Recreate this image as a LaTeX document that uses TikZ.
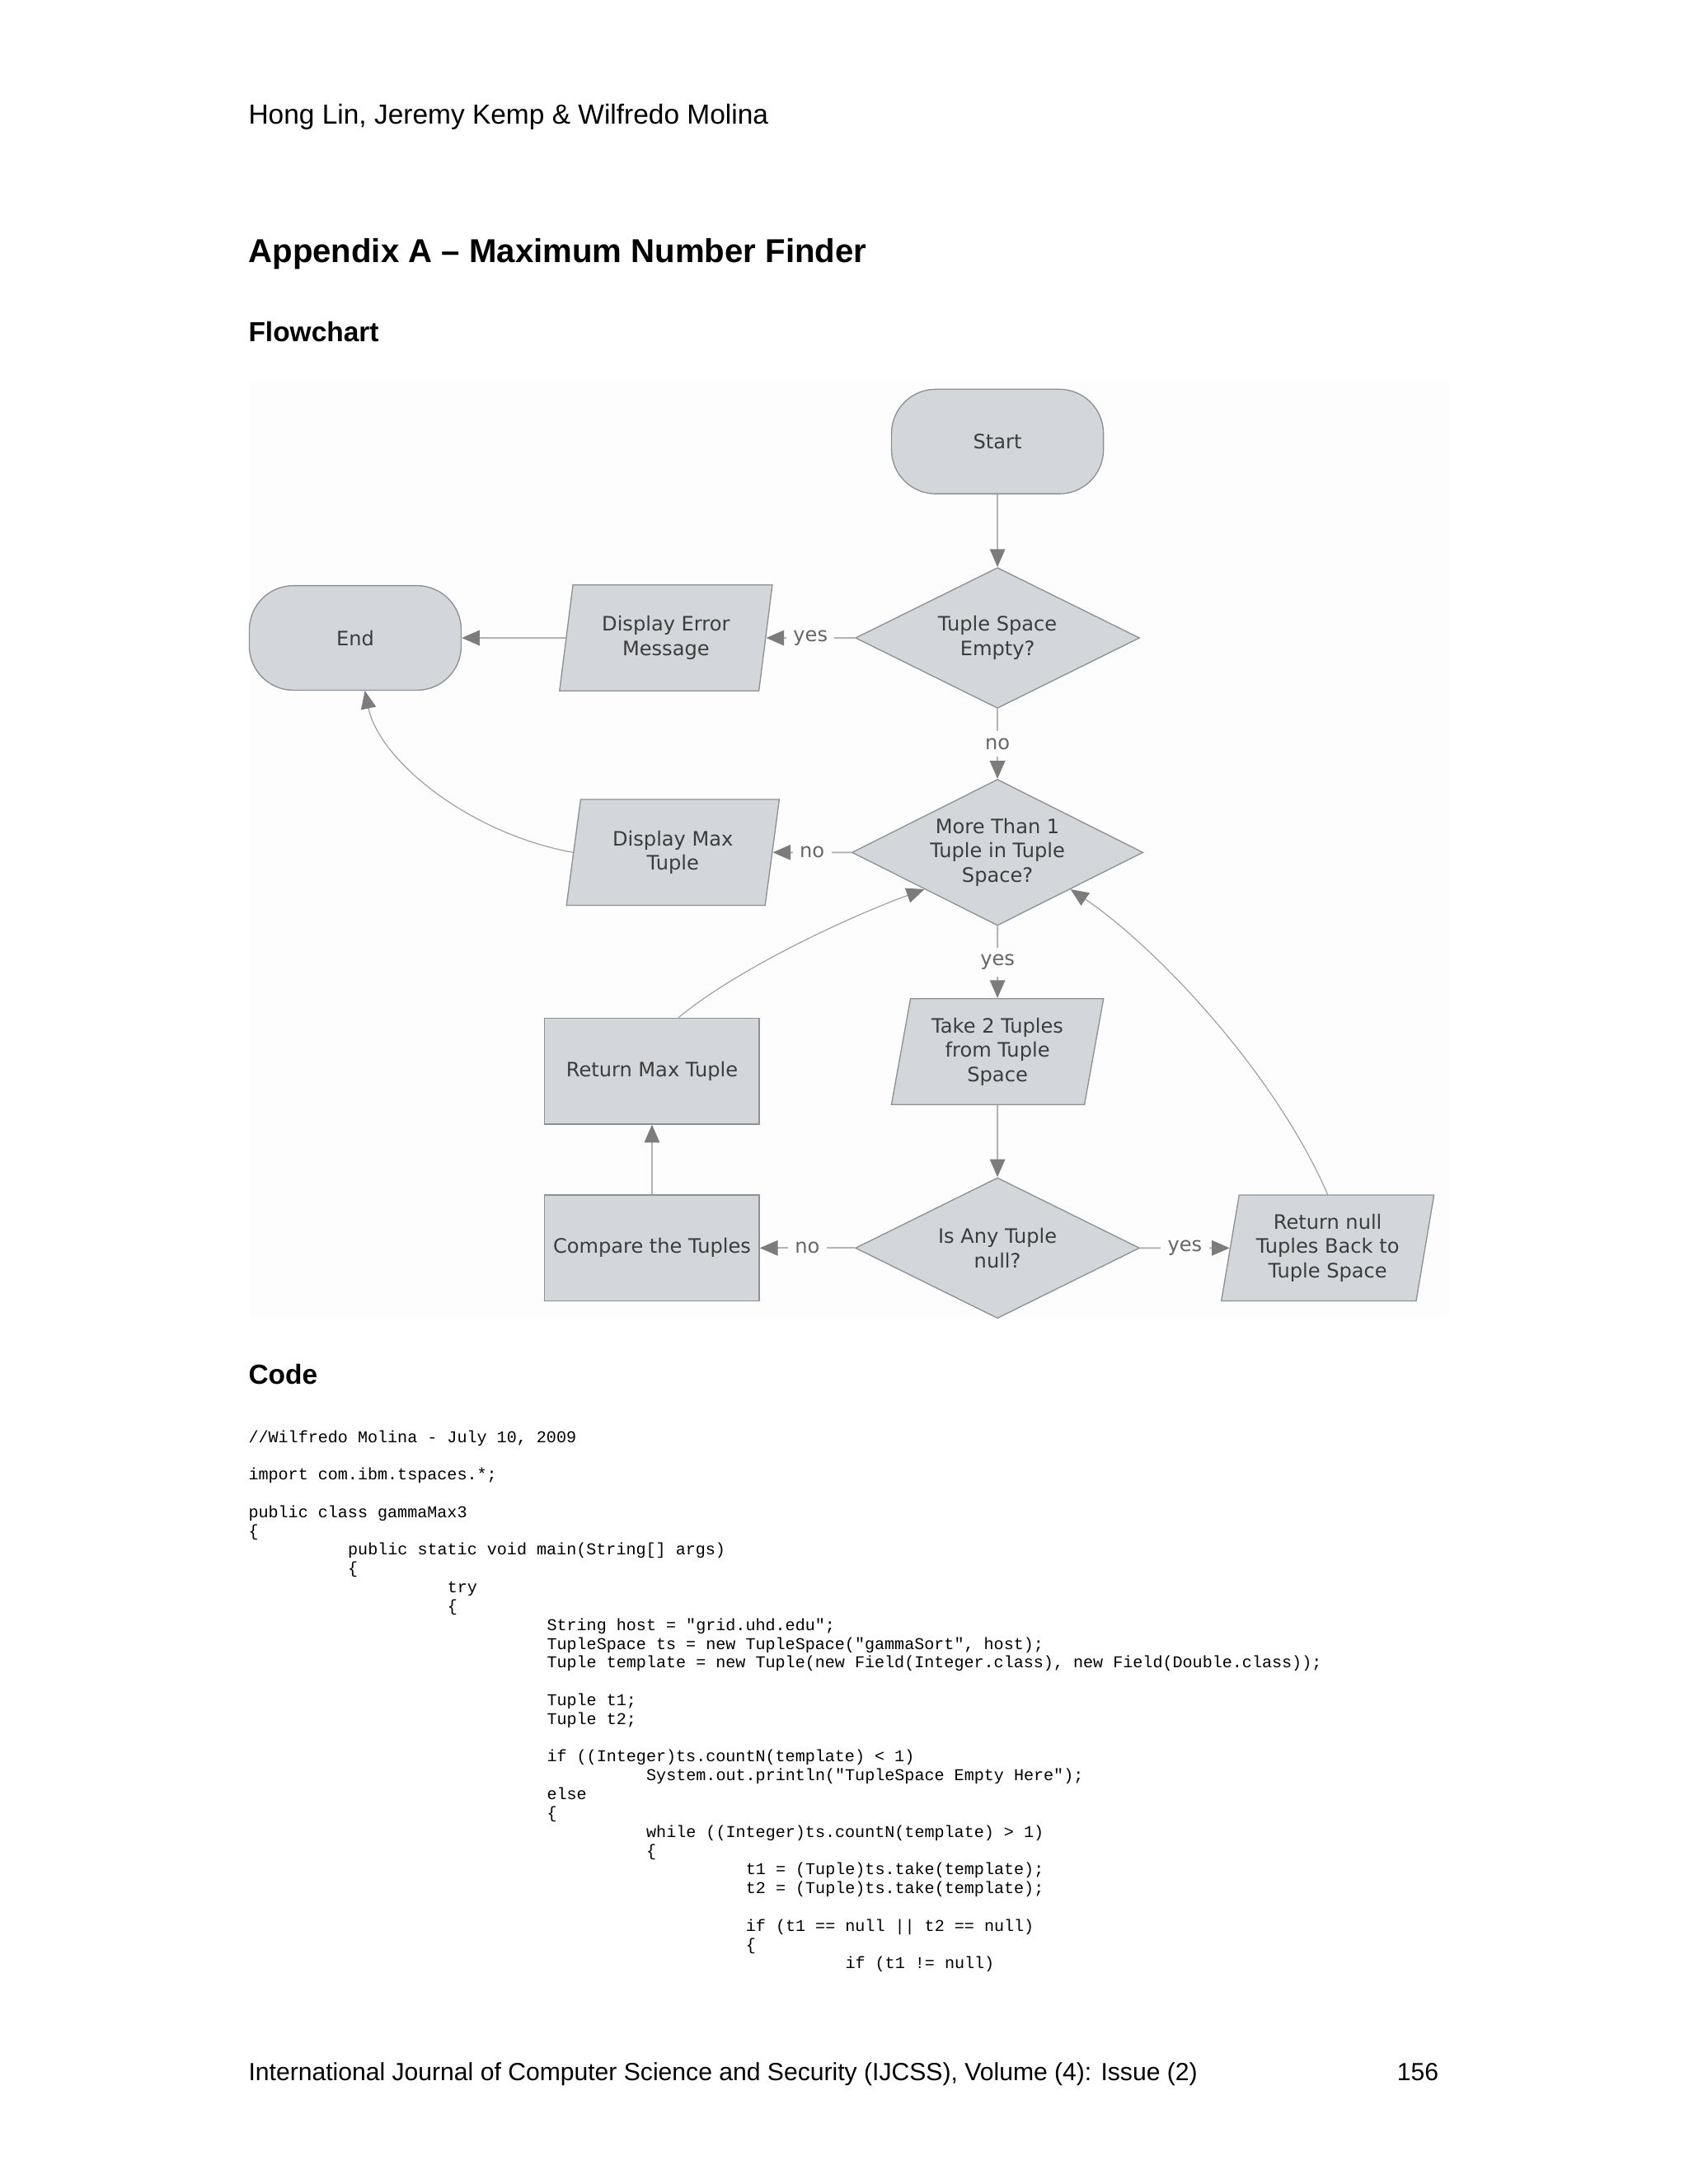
\documentclass[tikz,border=0pt]{standalone}
\usepackage{fontspec}
\setmainfont{Liberation Sans}
\setmonofont{Liberation Mono}
\newfontfamily\chartfont{DejaVu Sans}
\usetikzlibrary{shapes.geometric,arrows.meta}
\definecolor{boxfill}{HTML}{D3D7DC}
\definecolor{boxline}{HTML}{8E9094}
\definecolor{chartbg}{HTML}{FDFDFD}
\definecolor{linegray}{HTML}{B4B4B4}
\definecolor{tipgray}{HTML}{7C7C7C}
\definecolor{chartink}{HTML}{3C3C3C}

\begin{document}
\begin{tikzpicture}[x=0.50495pt, y=-0.50495pt,
  box/.style={draw=boxline, fill=boxfill, line width=0.4pt, text=chartink,
    font=\chartfont\fontsize{7.2}{8.8}\selectfont, align=center, inner sep=0pt},
  term/.style={box, rectangle, rounded corners=16pt, minimum width=76.8pt, minimum height=37.9pt},
  proc/.style={box, rectangle, minimum width=77.8pt, minimum height=38.4pt},
  io/.style={box, trapezium, trapezium left angle=78, trapezium right angle=102,
    trapezium stretches=true, minimum width=77.3pt, minimum height=38.4pt},
  decide/.style={box, diamond, aspect=2, minimum width=103pt, minimum height=51pt},
  flow/.style={draw=linegray, line width=0.6pt, -{Triangle[length=6.5pt,width=5.5pt,color=tipgray]}},
  loop/.style={flow, draw=gray!75, line width=0.35pt},
  lbl/.style={fill=chartbg, inner sep=2.5pt, text=black!60, font=\chartfont\fontsize{7.2}{8.8}\selectfont},
  code/.style={anchor=base west, inner sep=0pt, font=\ttfamily\fontsize{6}{6.8}\selectfont},
  page/.style={anchor=base west, inner sep=0pt, font=\fontsize{10}{12}\selectfont},
  head/.style={anchor=base west, inner sep=0pt, font=\bfseries\fontsize{10}{12}\selectfont}]

  \fill[white] (0,0) rectangle (1212,1568);
  \useasboundingbox (0,0) rectangle (1212,1568);

  % page text
  \node[page] (authors) at (178,89) {Hong Lin, Jeremy Kemp \& Wilfredo Molina};
  \node[anchor=base west, inner sep=0pt, font=\bfseries\fontsize{12}{14}\selectfont] (title) at (178,188.5)
    {Appendix A – Maximum Number Finder};
  \node[head] (flowhead) at (178,245) {Flowchart};
  \node[head] (codehead) at (178,994) {Code};
  \node[page, font=\fontsize{9}{11}\selectfont] (journal) at (178,1494)
    {International Journal of Computer Science and Security (IJCSS), Volume (4): Issue (2)};
  \node[page, anchor=base east, font=\fontsize{9}{11}\selectfont] (pageno) at (1033,1494) {156};

  % flowchart
  \fill[chartbg] (179,274) rectangle (1040,946);

  \node[term] (start) at (716,317) {Start};
  \node[decide] (empty) at (716,458) {Tuple Space\\Empty?};
  \node[io] (err) at (478,458) {Display Error\\Message};
  \node[term] (end) at (255,458) {End};
  \node[decide, minimum width=105.5pt, minimum height=53pt] (more) at (716,612)
    {More Than 1\\Tuple in Tuple\\Space?};
  \node[io] (dmax) at (483,612) {Display Max\\Tuple};
  \node[io] (take) at (716,755) {Take 2 Tuples\\from Tuple\\Space};
  \node[proc] (rmax) at (468,769) {Return Max Tuple};
  \node[proc] (cmp) at (468,896) {Compare the Tuples};
  \node[decide] (anynull) at (716,896) {Is Any Tuple\\null?};
  \node[io] (rnull) at (953,896) {Return null\\Tuples Back to\\Tuple Space};

  \draw[flow] (start) -- (empty);
  \draw[flow] (empty) -- node[lbl] (yes1) {yes} (err);
  \draw[flow] (err) -- (end);
  \draw[flow] (empty) -- node[lbl] (no1) {no} (more);
  \draw[flow] (more) -- node[lbl] (no2) {no} (dmax);
  \draw[flow] (more) -- node[lbl] (yes2) {yes} (take);
  \draw[flow] (take) -- (anynull);
  \draw[flow] (anynull) -- node[lbl] (no3) {no} (cmp);
  \draw[flow] (anynull) -- node[lbl] (yes3) {yes} (rnull);
  \draw[flow] (cmp) -- (rmax);
  \draw[loop] (dmax.west) .. controls (335,598) and (272,545) .. ([xshift=3.5pt]end.south);
  \draw[loop] ([xshift=9.6pt]rmax.north) .. controls (530,695) and (610,658) .. (more.south west);
  \draw[loop] (rnull.north) .. controls (915,770) and (830,680) .. (more.south east);

  % code listing
  \node[code] (c0) at (178,1035.5) {//Wilfredo Molina - July 10, 2009};
  \node[code] (c2) at (178,1062.5) {import com.ibm.tspaces.*;};
  \node[code] (c4) at (178,1089.5) {public class gammaMax3};
  \node[code] (c5) at (178,1103) {\{};
  \node[code] (c6) at (249.4,1116.5) {public static void main(String[] args)};
  \node[code] (c7) at (249.4,1130) {\{};
  \node[code] (c8) at (320.8,1143.5) {try};
  \node[code] (c9) at (320.8,1157) {\{};
  \node[code] (c10) at (392.2,1170.5) {String host = "grid.uhd.edu";};
  \node[code] (c11) at (392.2,1184) {TupleSpace ts = new TupleSpace("gammaSort", host);};
  \node[code] (c12) at (392.2,1197.5) {Tuple template = new Tuple(new Field(Integer.class), new Field(Double.class));};
  \node[code] (c14) at (392.2,1224.5) {Tuple t1;};
  \node[code] (c15) at (392.2,1238) {Tuple t2;};
  \node[code] (c17) at (392.2,1265) {if ((Integer)ts.countN(template) < 1)};
  \node[code] (c18) at (463.6,1278.5) {System.out.println("TupleSpace Empty Here");};
  \node[code] (c19) at (392.2,1292) {else};
  \node[code] (c20) at (392.2,1305.5) {\{};
  \node[code] (c21) at (463.6,1319) {while ((Integer)ts.countN(template) > 1)};
  \node[code] (c22) at (463.6,1332.5) {\{};
  \node[code] (c23) at (535,1346) {t1 = (Tuple)ts.take(template);};
  \node[code] (c24) at (535,1359.5) {t2 = (Tuple)ts.take(template);};
  \node[code] (c26) at (535,1386.5) {if (t1 == null || t2 == null)};
  \node[code] (c27) at (535,1400) {\{};
  \node[code] (c28) at (606.4,1413.5) {if (t1 != null)};
\end{tikzpicture}
\end{document}
